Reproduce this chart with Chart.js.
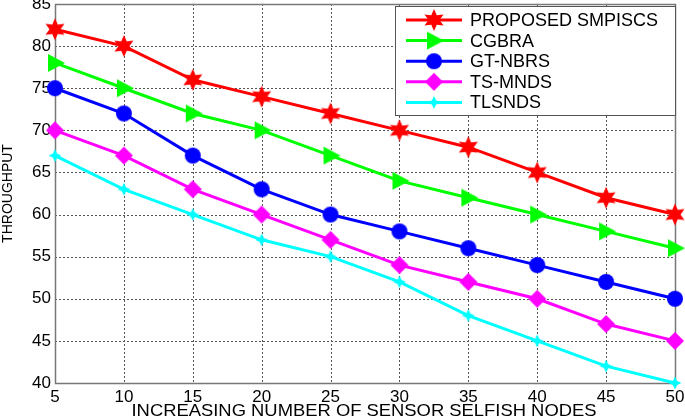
<!DOCTYPE html>
<html>
<head>
<meta charset="utf-8">
<script src="https://cdn.jsdelivr.net/npm/chart.js@4"></script>
<style>
  html, body { margin: 0; padding: 0; background: #fff; }
  #wrap { width: 685px; height: 420px; }
</style>
</head>
<body>
<div id="wrap"><canvas id="chart" width="685" height="420"></canvas></div>
<script>
const nodes = [5, 10, 15, 20, 25, 30, 35, 40, 45, 50];
const seriesNames = ['PROPOSED SMPISCS', 'CGBRA', 'GT-NBRS', 'TS-MNDS', 'TLSNDS'];
const proposed = [82, 80, 76, 74, 72, 70, 68, 65, 62, 60];
const cgbra    = [78, 75, 72, 70, 67, 64, 62, 60, 58, 56];
const gtnbrs   = [75, 72, 67, 63, 60, 58, 56, 54, 52, 50];
const tsmnds   = [70, 67, 63, 60, 57, 54, 52, 50, 47, 45];
const tlsnds   = [67, 63, 60, 57, 55, 52, 48, 45, 42, 40];
const xTitle = 'INCREASING NUMBER OF SENSOR SELFISH NODES';
const yTitle = 'THROUGHPUT';
const colors = ['#ff0000', '#00ff00', '#0000ff', '#ff00ff', '#00ffff'];
const shapes = ['hexagram', 'triangle', 'circle', 'diamond', 'smallstar'];

// marker images, drawn once and reused for points and legend
function makeMarker(color, shape) {
  const s = 24, c = s / 2;
  const cv = document.createElement('canvas');
  cv.width = s; cv.height = s;
  const g = cv.getContext('2d');
  g.fillStyle = color;
  g.beginPath();
  if (shape === 'hexagram') {
    const ro = 11, ri = 5.5;
    for (let i = 0; i < 12; i++) {
      const r = i % 2 === 0 ? ro : ri;
      const a = -Math.PI / 2 + i * Math.PI / 6;
      g.lineTo(c + r * Math.cos(a), c + r * Math.sin(a));
    }
  } else if (shape === 'triangle') {
    g.moveTo(c + 10, c);
    g.lineTo(c - 7, c - 9);
    g.lineTo(c - 7, c + 9);
  } else if (shape === 'circle') {
    g.arc(c, c, 8, 0, Math.PI * 2);
  } else if (shape === 'diamond') {
    g.moveTo(c, c - 9);
    g.lineTo(c + 9, c);
    g.lineTo(c, c + 9);
    g.lineTo(c - 9, c);
  } else {
    const ro = 6.5, ri = 3;
    for (let i = 0; i < 8; i++) {
      const r = i % 2 === 0 ? ro : ri;
      const a = -Math.PI / 2 + i * Math.PI / 4;
      g.lineTo(c + r * Math.cos(a), c + r * Math.sin(a));
    }
  }
  g.closePath();
  g.fill();
  return cv;
}

const markers = colors.map((col, i) => makeMarker(col, shapes[i]));
const values = [proposed, cgbra, gtnbrs, tsmnds, tlsnds];

const datasets = seriesNames.map((name, i) => ({
  label: name,
  data: nodes.map((x, j) => ({ x: x, y: values[i][j] })),
  borderColor: colors[i],
  backgroundColor: colors[i],
  borderWidth: 3,
  pointStyle: markers[i],
  pointRadius: 9,
  tension: 0,
  clip: false
}));

const FONT = '"Liberation Sans", Arial, Helvetica, sans-serif';

const frameAndLegend = {
  id: 'frameAndLegend',
  beforeDatasetsDraw(chart) {
    // matlab style dotted grid
    const ctx = chart.ctx;
    const a = chart.chartArea;
    const xs = chart.scales.x, ys = chart.scales.y;
    ctx.save();
    ctx.strokeStyle = '#555';
    ctx.lineWidth = 1;
    ctx.setLineDash([2, 2]);
    xs.ticks.forEach(t => {
      const px = Math.round(xs.getPixelForValue(t.value)) + 0.5;
      ctx.beginPath(); ctx.moveTo(px, a.top); ctx.lineTo(px, a.bottom); ctx.stroke();
    });
    ys.ticks.forEach(t => {
      const py = Math.round(ys.getPixelForValue(t.value)) + 0.5;
      ctx.beginPath(); ctx.moveTo(a.left, py); ctx.lineTo(a.right, py); ctx.stroke();
    });
    ctx.setLineDash([]);
    ctx.strokeStyle = '#777';
    ctx.lineWidth = 1.5;
    ctx.strokeRect(Math.round(a.left) + 0.5, Math.round(a.top) + 0.5,
                   Math.round(a.right - a.left), Math.round(a.bottom - a.top));
    ctx.restore();
  },
  afterDraw(chart) {
    const ctx = chart.ctx;
    ctx.save();
    // x axis title, slightly stretched like the original figure
    ctx.font = '17px ' + FONT;
    ctx.fillStyle = '#000';
    ctx.textAlign = 'center';
    ctx.textBaseline = 'middle';
    const tw = ctx.measureText(xTitle).width;
    const sx = 465 / tw;
    ctx.save();
    ctx.translate(364, 411);
    ctx.scale(sx, 1);
    ctx.fillText(xTitle, 0, 0);
    ctx.restore();

    // legend box inside the plot, top right
    const bx = 395, by = 6, bw = 280, bh = 109;
    ctx.fillStyle = '#fff';
    ctx.fillRect(bx, by, bw, bh);
    ctx.strokeStyle = '#555';
    ctx.lineWidth = 1;
    ctx.strokeRect(bx + 0.5, by + 0.5, bw, bh);
    ctx.font = '18px ' + FONT;
    ctx.textAlign = 'left';
    chart.data.datasets.forEach((ds, i) => {
      const y = 20 + i * 20.6;
      ctx.strokeStyle = ds.borderColor;
      ctx.lineWidth = 3;
      ctx.beginPath();
      ctx.moveTo(406, y);
      ctx.lineTo(462, y);
      ctx.stroke();
      ctx.drawImage(ds.pointStyle, 434 - 12, y - 12);
      ctx.fillStyle = '#000';
      ctx.fillText(ds.label, 470, y + 1);
    });
    ctx.restore();
  }
};

new Chart(document.getElementById('chart'), {
  type: 'line',
  data: { datasets: datasets },
  plugins: [frameAndLegend],
  options: {
    responsive: false,
    animation: false,
    layout: { autoPadding: false, padding: { top: 4, right: 10, left: 0, bottom: 0 } },
    plugins: { legend: { display: false }, tooltip: { enabled: false } },
    scales: {
      x: {
        type: 'linear',
        min: 5, max: 50,
        ticks: { stepSize: 5, color: '#000', font: { family: FONT, size: 17 }, padding: 4 },
        grid: { display: false, drawTicks: false },
        border: { display: false },
        afterFit(scale) {
          scale.height = 37;
          scale.paddingLeft = 0;
          scale.paddingRight = 0;
        }
      },
      y: {
        min: 40, max: 85,
        ticks: { stepSize: 5, color: '#000', font: { family: FONT, size: 17 }, padding: 4 },
        grid: { display: false, drawTicks: false },
        border: { display: false },
        title: { display: true, text: yTitle, color: '#000',
                 font: { family: FONT, size: 14 }, padding: { top: 0, bottom: 2 } },
        afterFit(scale) {
          scale.width = 55;
          scale.paddingTop = 0;
          scale.paddingBottom = 0;
        }
      }
    }
  }
});
</script>
</body>
</html>
